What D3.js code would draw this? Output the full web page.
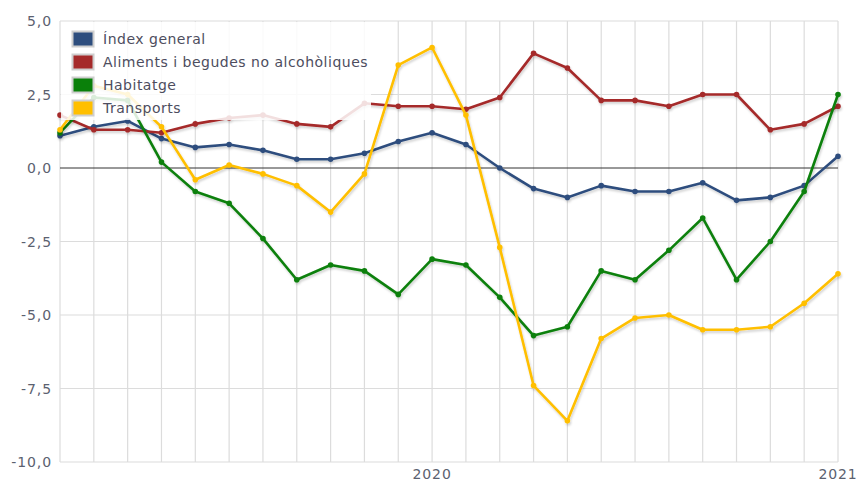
<!DOCTYPE html>
<html>
<head>
<meta charset="utf-8">
<script src="https://cdn.jsdelivr.net/npm/d3@7"></script>
<style>
  body { margin: 0; background: #fff; }
  text { font-family: "DejaVu Sans", Verdana, sans-serif; }
</style>
</head>
<body>
<div id="chart"></div>
<script>
// data
var months = ["2019-02", "2019-03", "2019-04", "2019-05", "2019-06", "2019-07", "2019-08", "2019-09",
  "2019-10", "2019-11", "2019-12", "2020-01", "2020-02", "2020-03", "2020-04", "2020-05", "2020-06",
  "2020-07", "2020-08", "2020-09", "2020-10", "2020-11", "2020-12", "2021-01"];
var indexGeneral = [1.1, 1.4, 1.6, 1.0, 0.7, 0.8, 0.6, 0.3, 0.3, 0.5, 0.9, 1.2, 0.8, 0.0, -0.7, -1.0,
  -0.6, -0.8, -0.8, -0.5, -1.1, -1.0, -0.6, 0.4];
var aliments = [1.8, 1.3, 1.3, 1.2, 1.5, 1.7, 1.8, 1.5, 1.4, 2.2, 2.1, 2.1, 2.0, 2.4, 3.9, 3.4,
  2.3, 2.3, 2.1, 2.5, 2.5, 1.3, 1.5, 2.1];
var habitatge = [1.2, 2.4, 2.3, 0.2, -0.8, -1.2, -2.4, -3.8, -3.3, -3.5, -4.3, -3.1, -3.3, -4.4, -5.7, -5.4,
  -3.5, -3.8, -2.8, -1.7, -3.8, -2.5, -0.8, 2.5];
var transports = [1.3, 2.8, 2.5, 1.4, -0.4, 0.1, -0.2, -0.6, -1.5, -0.2, 3.5, 4.1, 1.8, -2.7, -7.4, -8.6,
  -5.8, -5.1, -5.0, -5.5, -5.5, -5.4, -4.6, -3.6];
var seriesNames = ["Índex general", "Aliments i begudes no alcohòliques", "Habitatge", "Transports"];
var seriesColors = ["#2e4e7e", "#a52a2a", "#0a800a", "#ffbf00"];
var yTicks = [5, 2.5, 0, -2.5, -5, -7.5, -10];

//styles
var width = 861,
  height = 482;
var margin = {left: 60, right: 23, top: 21, bottom: 20};
var gridColor = "#dcdcdc";
var labelColor = "#5b6170";

var series = [indexGeneral, aliments, habitatge, transports].map(function (vals, i) {
  return {name: seriesNames[i], color: seriesColors[i], values: vals};
});

var svg = d3.select("#chart").append("svg")
  .attr("width", width)
  .attr("height", height);

var x = d3.scalePoint()
  .domain(months)
  .range([margin.left, width - margin.right]);

var y = d3.scaleLinear()
  .domain([-10, 5])
  .range([height - margin.bottom, margin.top]);

// soft shadow under the lines
var defs = svg.append("defs");
defs.append("filter")
  .attr("id", "shadow")
  .attr("x", "-5%").attr("y", "-5%")
  .attr("width", "110%").attr("height", "120%")
  .append("feDropShadow")
  .attr("dx", 1).attr("dy", 2)
  .attr("stdDeviation", 1.2)
  .attr("flood-color", "#000")
  .attr("flood-opacity", 0.18);

// grid
svg.append("g")
  .selectAll("line")
  .data(months)
  .join("line")
  .attr("x1", function (d) { return x(d); })
  .attr("x2", function (d) { return x(d); })
  .attr("y1", y(5))
  .attr("y2", y(-10))
  .attr("stroke", gridColor)
  .attr("stroke-width", 1.2);

svg.append("g")
  .selectAll("line")
  .data(yTicks)
  .join("line")
  .attr("x1", margin.left)
  .attr("x2", width - margin.right)
  .attr("y1", function (d) { return y(d); })
  .attr("y2", function (d) { return y(d); })
  .attr("stroke", function (d) { return d === 0 ? "#333" : gridColor; })
  .attr("stroke-width", function (d) { return d === 0 ? 1 : 1.2; });

// y labels (plain hyphen, decimal comma)
var fmt = function (d) { return d3.format(".1f")(d).replace("−", "-").replace(".", ","); };
svg.append("g")
  .selectAll("text")
  .data(yTicks)
  .join("text")
  .attr("x", 52)
  .attr("y", function (d) { return y(d); })
  .attr("dy", "0.36em")
  .attr("text-anchor", "end")
  .attr("font-size", 14)
  .attr("letter-spacing", 0.9)
  .attr("fill", labelColor)
  .text(fmt);

// x labels, only the years
svg.append("g")
  .selectAll("text")
  .data(months.filter(function (m) { return m.slice(5) === "01"; }))
  .join("text")
  .attr("x", function (d) { return x(d); })
  .attr("y", 479)
  .attr("text-anchor", "middle")
  .attr("font-size", 14)
  .attr("letter-spacing", 0.9)
  .attr("fill", labelColor)
  .text(function (d) { return d.slice(0, 4); });

// lines
var line = d3.line()
  .x(function (d, i) { return x(months[i]); })
  .y(function (d) { return y(d); });

var lineG = svg.append("g");
series.forEach(function (s) {
  var g = lineG.append("g").attr("filter", "url(#shadow)");
  g.append("path")
    .attr("d", line(s.values))
    .attr("fill", "none")
    .attr("stroke", s.color)
    .attr("stroke-width", 2.6)
    .attr("stroke-linejoin", "round");
  g.selectAll("circle")
    .data(s.values)
    .join("circle")
    .attr("cx", function (d, i) { return x(months[i]); })
    .attr("cy", function (d) { return y(d); })
    .attr("r", 2.8)
    .attr("fill", s.color);
});

// legend
var legend = svg.append("g");
legend.append("rect")
  .attr("x", margin.left + 1)
  .attr("y", margin.top + 1)
  .attr("width", 310)
  .attr("height", 98)
  .attr("fill", "#fff")
  .attr("opacity", 0.85);

var items = legend.selectAll("g.item")
  .data(series)
  .join("g")
  .attr("class", "item")
  .attr("transform", function (d, i) { return "translate(72," + (39 + i * 23) + ")"; });

items.append("rect")
  .attr("x", 0.5)
  .attr("y", -7.5)
  .attr("width", 21)
  .attr("height", 15)
  .attr("fill", function (d) { return d.color; })
  .attr("stroke", "#cfcfcf")
  .attr("stroke-width", 2);

items.append("text")
  .attr("x", 31)
  .attr("dy", "0.36em")
  .attr("font-size", 14)
  .attr("letter-spacing", 0.5)
  .attr("fill", "#4d4d5e")
  .text(function (d) { return d.name; });
</script>
</body>
</html>
